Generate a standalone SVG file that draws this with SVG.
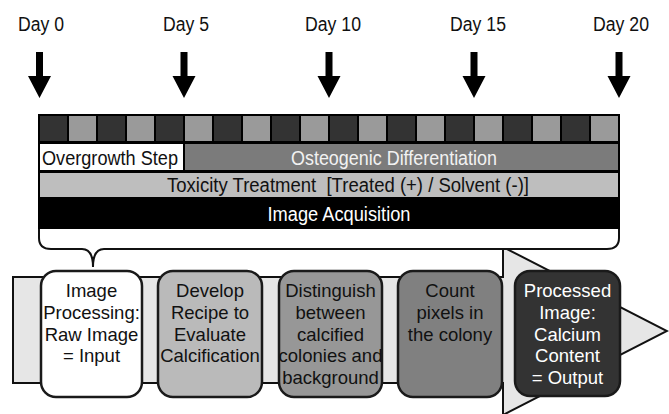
<svg xmlns="http://www.w3.org/2000/svg" width="669" height="414" viewBox="0 0 669 414">
<style>
.day{font-family:"Liberation Sans",Arial,sans-serif;font-size:20px;fill:#111;text-anchor:middle}
.row{font-family:"Liberation Sans",Arial,sans-serif;font-size:19.5px;text-anchor:middle}
.bt{font-family:"Liberation Sans",Arial,sans-serif;font-size:18.5px;text-anchor:middle;fill:#111}
.box{stroke:#1a1a1a;stroke-width:2.5}
.dk{fill:#333}
.gy{fill:#9a9a9a}
</style>
<defs>
<path id="darrow" d="M-3.5,52 L3.5,52 L3.5,76 L11.5,76 L0,98 L-11.5,76 L-3.5,76 Z" fill="#000"/>
</defs>
<rect width="669" height="414" fill="#fff"/>

<g id="days">
<text class="day" x="41" y="31" textLength="46" lengthAdjust="spacingAndGlyphs">Day 0</text>
<text class="day" x="186" y="31" textLength="46" lengthAdjust="spacingAndGlyphs">Day 5</text>
<text class="day" x="333" y="31" textLength="56" lengthAdjust="spacingAndGlyphs">Day 10</text>
<text class="day" x="478" y="31" textLength="56" lengthAdjust="spacingAndGlyphs">Day 15</text>
<text class="day" x="621" y="31" textLength="56" lengthAdjust="spacingAndGlyphs">Day 20</text>
</g>

<g id="connectors">
<use href="#darrow" x="39.5" y="0"/>
<use href="#darrow" x="184" y="0"/>
<use href="#darrow" x="329" y="0"/>
<use href="#darrow" x="474" y="0"/>
<use href="#darrow" x="619" y="0"/>
</g>

<g id="timeline">
<rect x="38" y="114" width="582" height="116" fill="#000"/>
<g>
<rect class="dk" x="40" y="116" width="27" height="25"/>
<rect class="gy" x="69" y="116" width="27" height="25"/>
<rect class="dk" x="98" y="116" width="27" height="25"/>
<rect class="gy" x="127" y="116" width="27" height="25"/>
<rect class="dk" x="156" y="116" width="27" height="25"/>
<rect class="gy" x="185" y="116" width="27" height="25"/>
<rect class="dk" x="214" y="116" width="27" height="25"/>
<rect class="gy" x="243" y="116" width="27" height="25"/>
<rect class="dk" x="272" y="116" width="27" height="25"/>
<rect class="gy" x="301" y="116" width="27" height="25"/>
<rect class="dk" x="330" y="116" width="27" height="25"/>
<rect class="gy" x="359" y="116" width="27" height="25"/>
<rect class="dk" x="388" y="116" width="27" height="25"/>
<rect class="gy" x="417" y="116" width="27" height="25"/>
<rect class="dk" x="446" y="116" width="27" height="25"/>
<rect class="gy" x="475" y="116" width="27" height="25"/>
<rect class="dk" x="504" y="116" width="27" height="25"/>
<rect class="gy" x="533" y="116" width="27" height="25"/>
<rect class="dk" x="562" y="116" width="27" height="25"/>
<rect class="gy" x="591" y="116" width="27" height="25"/>
</g>
<g id="overgrowth">
<rect x="40" y="144" width="143" height="26" fill="#fff"/>
<text class="row" x="110" y="165" fill="#111" textLength="136" lengthAdjust="spacingAndGlyphs">Overgrowth Step</text>
</g>
<g id="osteogenic">
<rect x="185" y="144" width="433" height="26" fill="#7b7b7b"/>
<text class="row" x="394" y="165" fill="#f2f2f2" textLength="206" lengthAdjust="spacingAndGlyphs">Osteogenic Differentiation</text>
</g>
<g id="toxicity">
<rect x="40" y="173" width="578" height="24" fill="#bebebe"/>
<text class="row" x="348" y="192" fill="#111" textLength="362" lengthAdjust="spacingAndGlyphs" xml:space="preserve">Toxicity Treatment  [Treated (+) / Solvent (-)]</text>
</g>
<g id="acquisition">
<text class="row" x="339" y="221" fill="#fff" textLength="143" lengthAdjust="spacingAndGlyphs">Image Acquisition</text>
</g>
</g>

<g id="pipeline-arrow">
<path d="M13,277 L503,277 L503,247 L667,331 L503,415 L503,383 L13,383 Z" fill="#e6e6e6" stroke="#111" stroke-width="2"/>
</g>

<g id="brace">
<path d="M39,229 L39,238 Q39,249 51,249 L82,249 Q93,249 93,267 Q93,249 104,249 L607,249 Q619,249 619,238 L619,229" fill="#fff" stroke="#111" stroke-width="2"/>
</g>

<g id="box1">
<rect class="box" x="41" y="271" width="101" height="126" rx="15" fill="#fff"/>
<text class="bt" x="91.5" y="297">Image</text>
<text class="bt" x="91.5" y="319">Processing:</text>
<text class="bt" x="91.5" y="340.5">Raw Image</text>
<text class="bt" x="91.5" y="362">= Input</text>
</g>
<g id="box2">
<rect class="box" x="158" y="271" width="104" height="126" rx="15" fill="#bababa"/>
<text class="bt" x="210" y="297">Develop</text>
<text class="bt" x="210" y="319">Recipe to</text>
<text class="bt" x="210" y="340.5">Evaluate</text>
<text class="bt" x="210" y="362">Calcification</text>
</g>
<g id="box3">
<rect class="box" x="279" y="271" width="103" height="126" rx="15" fill="#979797"/>
<text class="bt" x="330.5" y="297">Distinguish</text>
<text class="bt" x="330.5" y="319">between</text>
<text class="bt" x="330.5" y="340.5">calcified</text>
<text class="bt" x="330.5" y="362">colonies and</text>
<text class="bt" x="330.5" y="384">background</text>
</g>
<g id="box4">
<rect class="box" x="398" y="271" width="104" height="126" rx="15" fill="#808080"/>
<text class="bt" x="450" y="297">Count</text>
<text class="bt" x="450" y="319">pixels in</text>
<text class="bt" x="450" y="340.5">the colony</text>
</g>
<g id="box5">
<rect class="box" x="515" y="271" width="105" height="125" rx="15" fill="#333"/>
<text class="bt" x="567.5" y="297" style="fill:#fff">Processed</text>
<text class="bt" x="567.5" y="319" style="fill:#fff">Image:</text>
<text class="bt" x="567.5" y="340.5" style="fill:#fff">Calcium</text>
<text class="bt" x="567.5" y="362" style="fill:#fff">Content</text>
<text class="bt" x="567.5" y="384" style="fill:#fff">= Output</text>
</g>
</svg>
